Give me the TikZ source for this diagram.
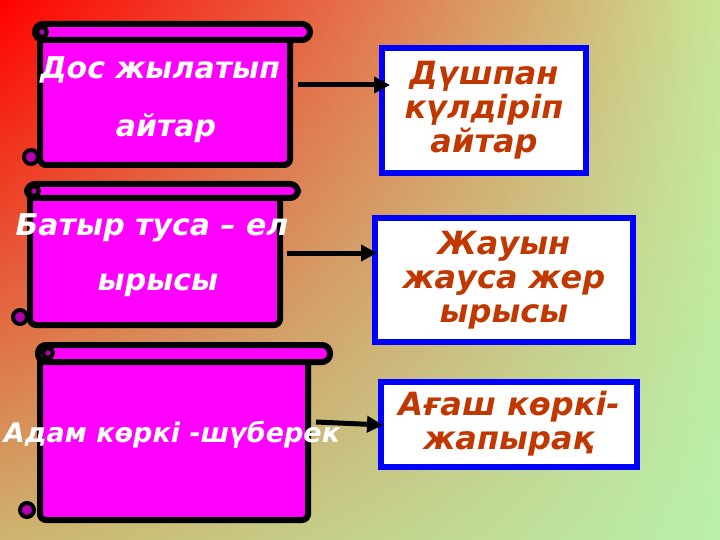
\documentclass[tikz,border=0pt]{standalone}
\usepackage{fontspec}
\setmainfont{DejaVu Sans}
\usetikzlibrary{arrows.meta,shadings}
\definecolor{mag}{HTML}{FF00FF}
\definecolor{txt}{HTML}{C03800}
\definecolor{bgur}{RGB}{200,230,150}
\definecolor{bgll}{RGB}{205,180,110}
\definecolor{bglr}{RGB}{185,240,170}
\definecolor{bblue}{RGB}{0,0,255}
\tikzset{
  body/.style={draw=black,fill=mag,line width=6pt,rounded corners=6pt},
  roll/.style={draw=black,fill=mag,line width=6pt,rounded corners=8pt},
  curl/.style={draw=black,fill=mag!70!black,line width=4pt},
  stxt/.style={text=white,font=\bfseries\itshape\fontsize{30}{34}\selectfont},
  btxt/.style={text=txt,font=\bfseries\itshape\fontsize{32}{34}\selectfont,align=center},
  box/.style={draw=bblue,fill=white,line width=6pt},
  arr/.style={draw=black,line width=5pt,-{Triangle[length=16pt,width=16pt]}}
}
\begin{document}
\begin{tikzpicture}[x=1pt,y=-1pt]
\useasboundingbox (0,0) rectangle (720,540);
\shade[upper left=red,upper right=bgur,lower left=bgll,lower right=bglr] (0,0) rectangle (720,540);
% scroll 1
\draw[body] (40,32) rectangle (290,165);
\draw[roll] (35,24) rectangle (310,40);
\draw[curl] (31,157) circle (7);
\draw[curl] (42,32) circle (5);
\node[stxt] (s1a) at (160,70) {Дос жылатып};
\node[stxt] (s1b) at (166,128) {айтар};
\coordinate (s1) at (298,85);
% scroll 2
\draw[body] (30,192) rectangle (280,325);
\draw[roll] (27,184) rectangle (298,198);
\draw[curl] (20,317) circle (7);
\draw[curl] (34,191) circle (5);
\node[stxt] (s2a) at (152,228) {Батыр туса – ел};
\node[stxt] (s2b) at (158,285) {ырысы};
\coordinate (s2) at (287,253);
% scroll 3
\draw[body] (40,352) rectangle (308,520);
\draw[roll] (38,345) rectangle (330,362);
\draw[curl] (27,510) circle (7);
\draw[curl] (48,353) circle (5);
\node[stxt,font=\bfseries\itshape\fontsize{27}{30}\selectfont] (s3) at (172,435) {Адам көркі -шүберек};
\coordinate (s3r) at (316,422);
% boxes
\draw[box] (382,48) rectangle (586,173);
\node[btxt] (b1) at (484,110) {Дүшпан\\күлдіріп\\айтар};
\draw[box] (375,218) rectangle (633,342);
\node[btxt] (b2) at (504,280) {Жауын\\жауса жер\\ырысы};
\draw[box] (381,382) rectangle (637,467);
\node[btxt] (b3) at (509,424) {Ағаш көркі-\\жапырақ};
\coordinate (e1) at (390,85);
\coordinate (e2) at (377,253);
\coordinate (e3) at (383,425);
\draw[arr] (s1) -- (e1);
\draw[arr] (s2) -- (e2);
\draw[arr] (s3r) -- (e3);
\end{tikzpicture}
\end{document}
